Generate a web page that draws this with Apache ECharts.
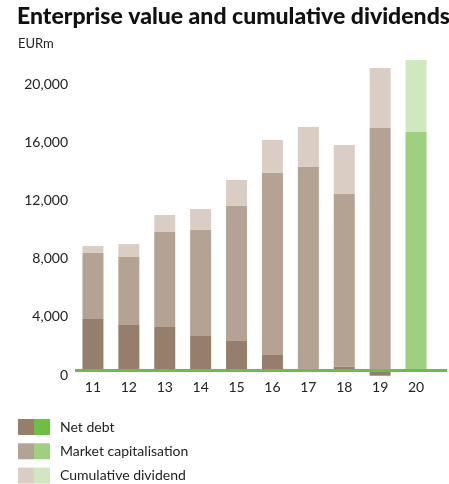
<!DOCTYPE html>
<html>
<head>
<meta charset="utf-8">
<script src="https://cdn.jsdelivr.net/npm/echarts@6/dist/echarts.min.js"></script>
<style>
    html, body { margin: 0; padding: 0; background: #fff; }
    #main { width: 449px; height: 484px; }
</style>
</head>
<body>
<div id="main"></div>
<script>
// 数据 (EURm)
var years = ['11', '12', '13', '14', '15', '16', '17', '18', '19', '20'];
var netDebt = [3540, 3130, 2990, 2370, 2030, 1070, 0, 260, -360, 0];
var marketCap = [4540, 4670, 6530, 7290, 9280, 12510, 13990, 11870, 16670, 16390];
var cumDividend = [480, 890, 1170, 1440, 1790, 2270, 2750, 3370, 4120, 4950];
var yTicks = [0, 4000, 8000, 12000, 16000, 20000];

var names = ['Net debt', 'Market capitalisation', 'Cumulative dividend'];
var brown = ['#957e6c', '#b4a292', '#dacdc4'];
var green = ['#6cbe45', '#9fd080', '#cfe8c0'];
var font = 'Lato, "Open Sans", sans-serif';

var chart = echarts.init(document.getElementById('main'));

// 最后一年用绿色
function makeData(values, k) {
    return values.map(function (v, i) {
        if (i === years.length - 1) {
            return { value: v, itemStyle: { color: green[k] } };
        }
        return v;
    });
}

var option = {
    animation: false,
    title: [
        {
            text: 'Enterprise value and cumulative dividends',
            left: 17, top: 5, padding: 0,
            textStyle: { fontFamily: font, fontWeight: 900, fontSize: 23, color: '#111' }
        },
        {
            text: 'EURm',
            left: 18, top: 37, padding: 0,
            textStyle: { fontFamily: font, fontWeight: 'normal', fontSize: 13, color: '#222' }
        }
    ],
    grid: { left: 75, width: 359, top: 21.3, bottom: 113.5 },
    xAxis: {
        type: 'category',
        data: years,
        axisLine: { show: false },
        axisTick: { show: false },
        axisLabel: { margin: 10, fontFamily: font, fontSize: 14, color: '#222' }
    },
    yAxis: {
        type: 'value',
        min: 0, max: 24000, interval: 4000,
        splitLine: { show: false },
        axisLine: { show: false },
        axisTick: { show: false },
        axisLabel: {
            margin: 7,
            fontFamily: font, fontSize: 14, color: '#222',
            verticalAlign: 'top', lineHeight: 9,
            formatter: function (v) {
                return yTicks.indexOf(v) > -1 ? echarts.format.addCommas(v) : '';
            }
        }
    },
    legend: [
        {
            // 棕色方块
            orient: 'vertical', left: 18, top: 419, padding: 0,
            icon: 'rect', itemWidth: 16, itemHeight: 16, itemGap: 8.3,
            formatter: function () { return ''; },
            textStyle: { lineHeight: 16, fontSize: 14 },
            data: names
        },
        {
            // 绿色方块 + 文字
            orient: 'vertical', left: 34, top: 419, padding: 0,
            icon: 'rect', itemWidth: 16, itemHeight: 16, itemGap: 8.3,
            textStyle: { fontFamily: font, fontSize: 14, color: '#222', lineHeight: 16, padding: [0, 0, 0, 5] },
            data: names.map(function (n, k) {
                return { name: n, itemStyle: { color: green[k] } };
            })
        }
    ],
    series: [
        {
            name: names[0], type: 'bar', stack: 'ev', barWidth: 21, clip: false,
            itemStyle: { color: brown[0] },
            data: makeData(netDebt, 0)
        },
        {
            name: names[1], type: 'bar', stack: 'ev', barWidth: 21,
            itemStyle: { color: brown[1] },
            data: makeData(marketCap, 1)
        },
        {
            name: names[2], type: 'bar', stack: 'ev', barWidth: 21,
            itemStyle: { color: brown[2] },
            data: makeData(cumDividend, 2)
        }
    ]
};
chart.setOption(option);

// 绿色零线, 比图表区域更长
var y0 = chart.convertToPixel({ yAxisIndex: 0 }, 0);
chart.setOption({
    graphic: [{
        type: 'line', z: 100,
        shape: { x1: 75, y1: y0, x2: 447, y2: y0 },
        style: { stroke: '#6dbb4b', lineWidth: 3 }
    }]
});
</script>
</body>
</html>
